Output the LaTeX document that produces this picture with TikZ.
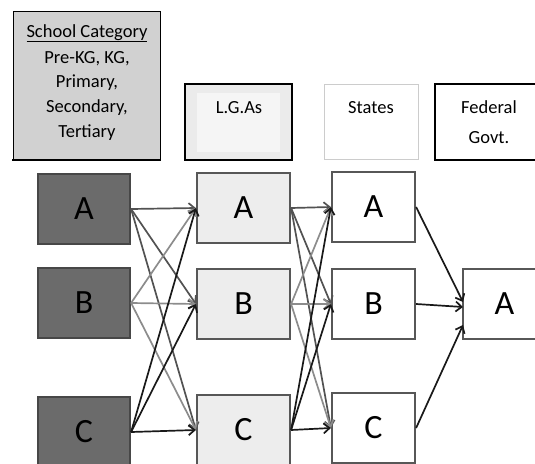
\documentclass[tikz,border=0pt]{standalone}
\usepackage{fontspec}
\setmainfont{Carlito}
\usetikzlibrary{arrows.meta}
\begin{document}
\begin{tikzpicture}[x=1pt,y=-1pt,
  hdrtext/.style={font=\fontsize{18.5}{25}\selectfont, inner sep=0pt, anchor=base},
  bigbox/.style={line width=2.2pt, minimum height=70pt, inner sep=0pt, font=\fontsize{34}{34}\selectfont},
  darkbox/.style={bigbox, draw=black!72, fill=black!58, minimum width=92pt},
  lightbox/.style={bigbox, draw=black!66, fill=black!7, minimum width=93pt},
  whitebox/.style={bigbox, draw=black!66, fill=white, minimum width=83pt},
  arr/.style={-{Straight Barb[length=6pt,width=10pt]}, line width=1.7pt},
  lineA/.style={arr, draw=black!68},
  lineB/.style={arr, draw=black!45},
  lineC/.style={arr, draw=black!90},
]
\useasboundingbox (0,0) rectangle (535,463);

% header boxes
\path[fill=black!18, draw=black, line width=1pt] (13,11) rectangle (160,160);
\draw[line width=2.5pt] (12,160) -- (161,160);
\node[hdrtext] (sc1) at (87,37) {\underline{School Category}};
\node[hdrtext] (sc2) at (87,63) {Pre-KG, KG,};
\node[hdrtext] (sc3) at (87,87) {Primary,};
\node[hdrtext] (sc4) at (87,112) {Secondary,};
\node[hdrtext] (sc5) at (87,137) {Tertiary};

\path[fill=black!8, draw=black, line width=1.3pt] (185,84) rectangle (292,160);
\path[fill=black!4] (197,93) rectangle (280,152);
\draw[line width=2.5pt] (184,160) -- (293,160);
\node[hdrtext] (lga) at (239,113) {L.G.As};

\path[fill=white, draw=black!20, line width=1pt] (324,84) rectangle (418,159);
\node[hdrtext] (st) at (371,113) {States};

\path[fill=white, draw=black, line width=1.3pt] (435,84) rectangle (545,160);
\draw[line width=2.5pt] (434,160) -- (545,160);
\node[hdrtext] (fg1) at (489,113) {Federal};
\node[hdrtext] (fg2) at (489,143) {Govt.};

% column boxes
\node[darkbox] (pA) at (84,209) {A};
\node[darkbox] (pB) at (84,303) {B};
\node[darkbox] (pC) at (84,432) {C};

\node[lightbox] (qA) at (243.5,208) {A};
\node[lightbox] (qB) at (243.5,304) {B};
\node[lightbox] (qC) at (243.5,430) {C};

\node[whitebox] (rA) at (373.5,207) {A};
\node[whitebox] (rB) at (373.5,304) {B};
\node[whitebox] (rC) at (373.5,428) {C};

\node[whitebox] (fA) at (504.5,304) {A};
\coordinate (fA1) at (463,302);
\coordinate (fA2) at (463,307);
\coordinate (fA3) at (463,325);

% connectors
\foreach \s/\st in {A/lineA, B/lineB, C/lineC}{
  \foreach \t in {A,B,C}{
    \draw[\st] (p\s.east) -- (q\t.west);
    \draw[\st] (q\s.east) -- (r\t.west);
  }
}
\draw[lineC] (rA.east) -- (fA1);
\draw[lineC] (rB.east) -- (fA2);
\draw[lineC] (rC.east) -- (fA3);
\end{tikzpicture}
\end{document}
